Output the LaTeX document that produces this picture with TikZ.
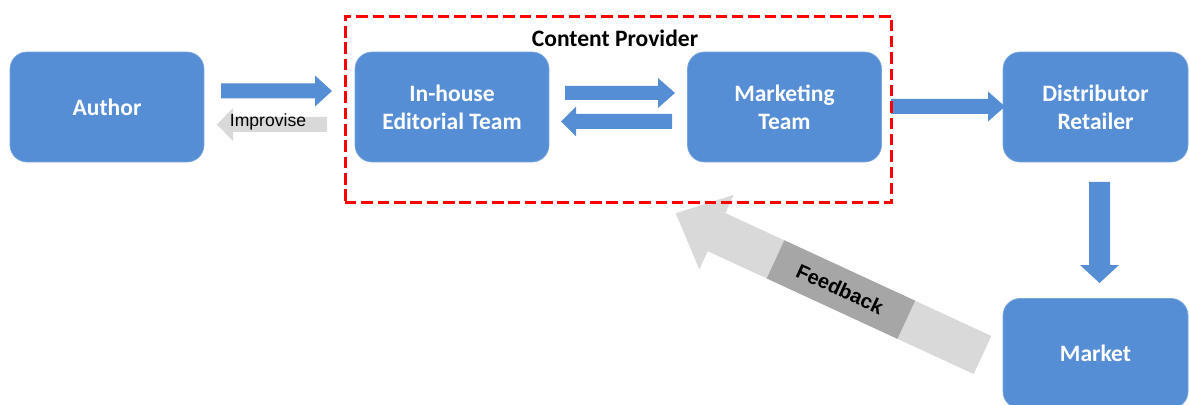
\documentclass[tikz,border=0pt]{standalone}
\usepackage{fontspec}
\setmainfont{Carlito}
\newfontfamily\arialfont{Liberation Sans}
\definecolor{boxblue}{RGB}{85,142,213}
\definecolor{lgray}{RGB}{217,217,217}
\definecolor{dgray}{RGB}{166,166,166}
% #1 style, #2 tail centre, #3 angle, #4 length, #5 shaft half width, #6 head half width, #7 head length
\newcommand{\BArrow}[7]{\fill[#1,shift={#2},rotate=#3] (0,-#5) -- ({#4-#7},-#5) -- ({#4-#7},-#6) -- (#4,0) -- ({#4-#7},#6) -- ({#4-#7},#5) -- (0,#5) -- cycle;}
\begin{document}
\begin{tikzpicture}[x=0.02cm,y=-0.02cm,
  box/.style={fill=boxblue, draw=boxblue!80!white, line width=0.4pt, rounded corners=0.34cm,
    minimum width=3.88cm, minimum height=2.2cm, text=white,
    font=\fontsize{13.4}{16.1}\selectfont\bfseries, align=center, inner sep=0pt},
  provider/.style={draw=red, line width=1.7pt, dash pattern=on 6.5pt off 2.8pt,
    minimum width=10.94cm, minimum height=3.74cm, inner sep=0pt},
  title/.style={font=\fontsize{13.4}{16.1}\selectfont\bfseries, text=black, inner sep=0pt},
  smalllabel/.style={font=\arialfont\fontsize{10}{12}\selectfont, text=black, inner sep=0pt},
  fblabel/.style={font=\arialfont\fontsize{11.5}{13}\selectfont\bfseries, text=black, inner sep=0pt}]
\useasboundingbox (0,0) rectangle (1189,405);

% feedback arrow (under the dashed frame)
\BArrow{lgray}{(982.5,355)}{155.2}{338}{21}{41}{45}
\fill[dgray,shift={(982.5,355)},rotate=155.2] (84,-21) rectangle (228,21);
\node[fblabel, rotate=-24.8] (fb) at (840,289) {Feedback};

% boxes
\node[box] (author) at (107,107) {Author};
\node[box] (editorial) at (452,107) {In-house\\Editorial Team};
\node[box] (marketing) at (784.5,107) {Marketing\\Team};
\node[box, minimum width=3.7cm] (distributor) at (1095.5,107) {Distributor\\Retailer};
\node[box, minimum width=3.7cm] (market) at (1095.5,353.5) {Market};

% block arrows
\BArrow{boxblue}{(221,91)}{0}{111}{7.5}{15.5}{17}
\BArrow{lgray}{(327,124.5)}{180}{110}{7.5}{16.5}{16}
\node[smalllabel] (improvise) at (268,122) {Improvise};
\BArrow{boxblue}{(565,93)}{0}{110}{7}{15}{17}
\BArrow{boxblue}{(672,121.5)}{180}{111}{7.5}{15}{15}
\BArrow{boxblue}{(891,106.5)}{0}{114}{7.5}{15}{17}
\BArrow{boxblue}{(1099.5,182)}{-90}{101}{10.5}{19.5}{18}

% content provider frame
\node[provider] (provider) at (618.5,109.5) {};
\node[title] (cp) at (615,38) {Content Provider};
\end{tikzpicture}
\end{document}
